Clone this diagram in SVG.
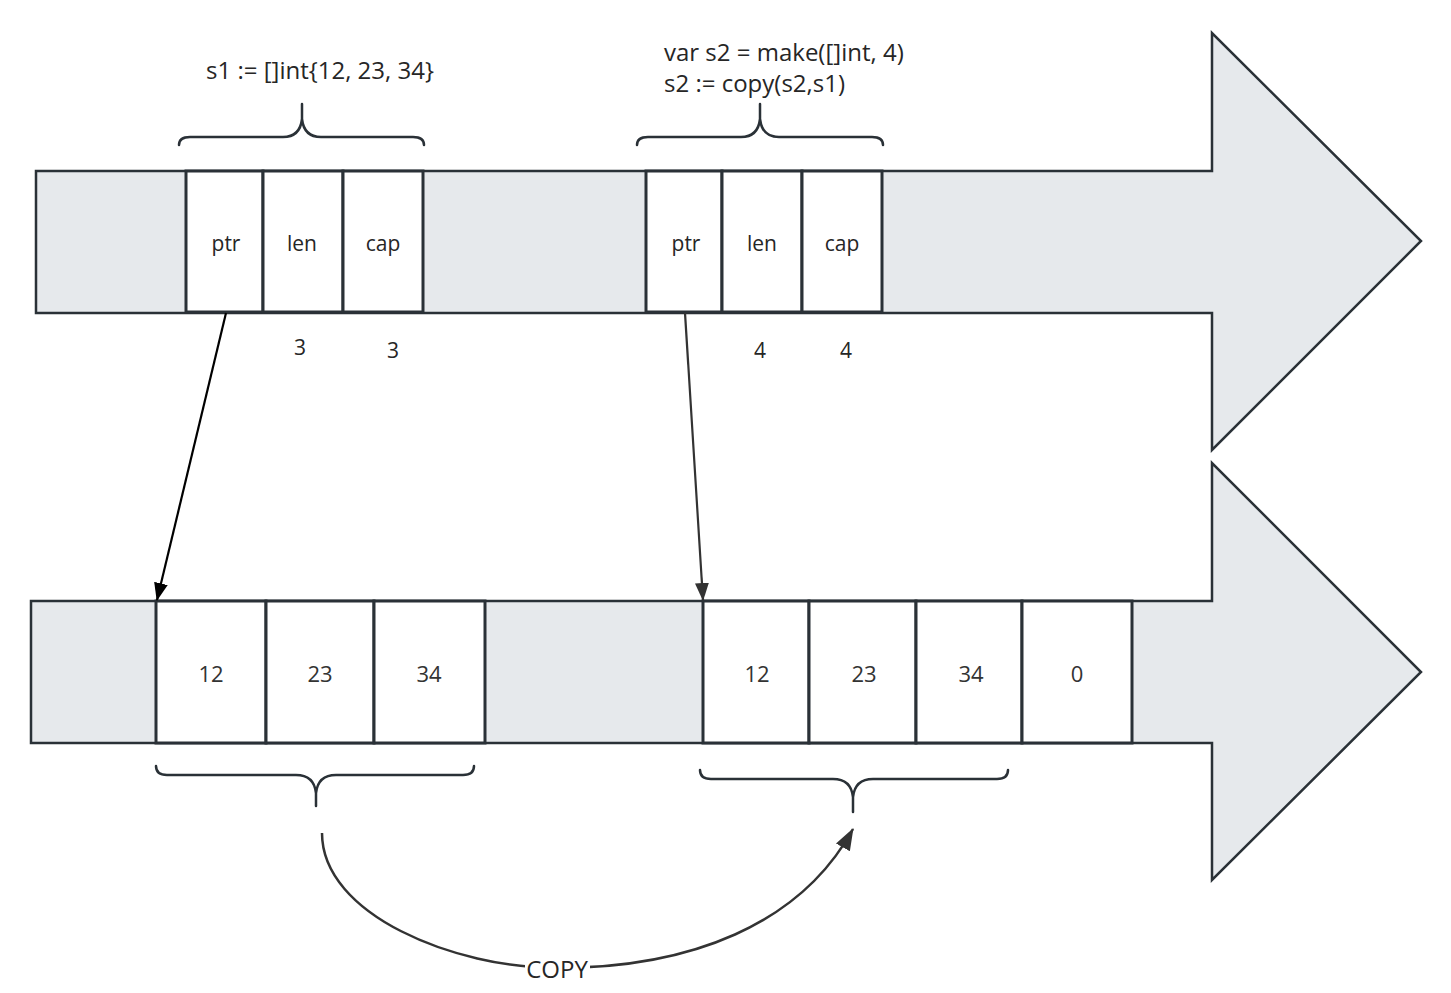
<svg xmlns="http://www.w3.org/2000/svg" width="1451" height="993" viewBox="0 0 1451 993">
<style>
.band{fill:#e6e9ec;stroke:#2a3137;stroke-width:2.5;stroke-linejoin:miter}
.cell{fill:#ffffff;stroke:#2a3137;stroke-width:3}
.brace{fill:none;stroke:#2a3137;stroke-width:2.5;stroke-linecap:round}
.t{font-family:"Open Sans","Noto Sans","Liberation Sans",sans-serif;font-size:24px;fill:#262626}
.m{font-family:"Open Sans","Noto Sans","Liberation Sans",sans-serif;font-size:21px;fill:#262626}
.n{font-family:"Open Sans","Noto Sans","Liberation Sans",sans-serif;font-size:22px;fill:#333}
.c{text-anchor:middle;dominant-baseline:central}
.ptr{fill:none;stroke:#000;stroke-width:2.2}
.copy{fill:none;stroke:#333;stroke-width:2.5}
</style>
<defs>
<marker id="ahBlack" markerWidth="18" markerHeight="14" viewBox="0 0 18 14" refX="17" refY="7" orient="auto" markerUnits="userSpaceOnUse">
<path d="M0,0 L18,7 L0,14 z" fill="#000"/>
</marker>
<marker id="ahGray" markerWidth="18" markerHeight="14" viewBox="0 0 18 14" refX="17" refY="7" orient="auto" markerUnits="userSpaceOnUse">
<path d="M0,0 L18,7 L0,14 z" fill="#333"/>
</marker>
<marker id="ahCopy" markerWidth="22" markerHeight="16" viewBox="0 0 22 16" refX="21" refY="8" orient="auto" markerUnits="userSpaceOnUse">
<path d="M0,0 L22,8 L0,16 z" fill="#333"/>
</marker>
</defs>

<g id="top-arrow">
<polygon class="band" points="36,171 1212,171 1212,33 1421,241 1212,450 1212,313 36,313"/>
</g>
<g id="bottom-arrow">
<polygon class="band" points="31,601 1212,601 1212,463 1421,672 1212,880 1212,743 31,743"/>
</g>

<g id="s1-header">
<rect class="cell" x="186" y="171" width="77" height="141"/>
<rect class="cell" x="263" y="171" width="80" height="141"/>
<rect class="cell" x="343" y="171" width="80" height="141"/>
<text class="m c" x="226" y="243">ptr</text>
<text class="m c" x="302" y="243">len</text>
<text class="m c" x="383" y="243">cap</text>
</g>
<g id="s2-header">
<rect class="cell" x="646" y="171" width="76" height="141"/>
<rect class="cell" x="722" y="171" width="80" height="141"/>
<rect class="cell" x="802" y="171" width="80" height="141"/>
<text class="m c" x="686" y="243">ptr</text>
<text class="m c" x="762" y="243">len</text>
<text class="m c" x="842" y="243">cap</text>
</g>

<g id="s1-values">
<text class="m c" x="300" y="347">3</text>
<text class="m c" x="393" y="350">3</text>
</g>
<g id="s2-values">
<text class="m c" x="760" y="350">4</text>
<text class="m c" x="846" y="350">4</text>
</g>

<g id="s1-label">
<text class="t" x="320" y="79" text-anchor="middle">s1 := []int{12, 23, 34}</text>
<path class="brace" d="M179,145 Q179,137 190,137 L283,137 Q300,137 302,119 Q304,137 321,137 L413,137 Q424,137 424,145 M302,119 L302,104"/>
</g>
<g id="s2-label">
<text class="t" x="664" y="61">var s2 = make([]int, 4)</text>
<text class="t" x="664" y="92">s2 := copy(s2,s1)</text>
<path class="brace" d="M637,145 Q637,137 648,137 L741,137 Q758,137 760,119 Q762,137 779,137 L872,137 Q883,137 883,145 M760,119 L760,104"/>
</g>

<g id="s1-array">
<rect class="cell" x="156" y="601" width="110" height="142"/>
<rect class="cell" x="266" y="601" width="108" height="142"/>
<rect class="cell" x="374" y="601" width="111" height="142"/>
<text class="n c" x="211" y="673">12</text>
<text class="n c" x="320" y="673">23</text>
<text class="n c" x="429" y="673">34</text>
<path class="brace" d="M156,766 Q156,775 167,775 L296,775 Q314,775 316,793 Q318,775 336,775 L463,775 Q474,775 474,766 M316,793 L316,806"/>
</g>
<g id="s2-array">
<rect class="cell" x="703" y="601" width="106" height="142"/>
<rect class="cell" x="809" y="601" width="107" height="142"/>
<rect class="cell" x="916" y="601" width="106" height="142"/>
<rect class="cell" x="1022" y="601" width="110" height="142"/>
<text class="n c" x="757" y="673">12</text>
<text class="n c" x="864" y="673">23</text>
<text class="n c" x="971" y="673">34</text>
<text class="n c" x="1077" y="673">0</text>
<path class="brace" d="M700,770 Q700,779 711,779 L833,779 Q851,779 853,797 Q855,779 873,779 L997,779 Q1008,779 1008,770 M853,797 L853,812"/>
</g>

<g id="connectors">
<path class="ptr" d="M226,313 L157,600" marker-end="url(#ahBlack)"/>
<path class="ptr" d="M685,313 L703,600" style="stroke:#333" marker-end="url(#ahGray)"/>
<path class="copy" d="M322,833 C322,915 455,968 557,968 C690,968 800,925 853,829" marker-end="url(#ahCopy)"/>
<rect x="525" y="954" width="65" height="28" fill="#fff"/>
<text class="t c" x="557" y="968">COPY</text>
</g>
</svg>
